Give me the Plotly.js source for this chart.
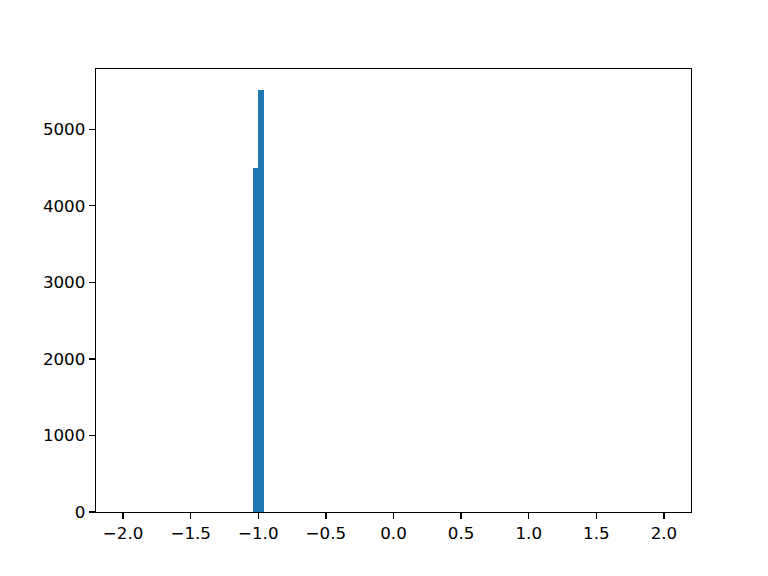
<!DOCTYPE html>
<html>
<head>
<meta charset="utf-8">
<script src="https://cdn.plot.ly/plotly-3.0.1.min.js"></script>
<style>body{margin:0;background:#fff}#plot{width:768px;height:576px}</style>
</head>
<body>
<div id="plot"></div>
<script>
// histogram bins (only the non-empty ones), width 0.04 over range -2..2
const binLeft = [-1.04, -1.00];
const counts = [4490, 5510];
const binWidth = 0.04;

const xTickVals = [-2.0, -1.5, -1.0, -0.5, 0.0, 0.5, 1.0, 1.5, 2.0];
const xTickText = ['\u22122.0', '\u22121.5', '\u22121.0', '\u22120.5', '0.0', '0.5', '1.0', '1.5', '2.0'];
const yTickVals = [0, 1000, 2000, 3000, 4000, 5000];

const trace = {
    type: 'bar',
    x: binLeft,
    y: counts,
    width: binLeft.map(() => binWidth),
    offset: 0,
    marker: {color: '#1f77b4', line: {width: 0}},
    hoverinfo: 'x+y'
};

const axisStyle = {
    showgrid: false,
    zeroline: false,
    showline: true,
    mirror: true,
    linecolor: '#000',
    linewidth: 1.3,
    ticks: 'outside',
    ticklen: 6,
    tickwidth: 1.3,
    tickcolor: '#000',
    tickfont: {family: 'DejaVu Sans', size: 16.7, color: '#000'}
};

const layout = {
    width: 768,
    height: 576,
    margin: {l: 96, r: 77, t: 69, b: 64, pad: 0},
    paper_bgcolor: '#fff',
    plot_bgcolor: '#fff',
    showlegend: false,
    bargap: 0,
    xaxis: Object.assign({}, axisStyle, {
        range: [-2.2, 2.2],
        tickmode: 'array',
        tickvals: xTickVals,
        ticktext: xTickText
    }),
    yaxis: Object.assign({}, axisStyle, {
        range: [0, Math.max(...counts) * 1.05],
        tickmode: 'array',
        tickvals: yTickVals
    })
};

Plotly.newPlot('plot', [trace], layout, {displayModeBar: false, staticPlot: true});
</script>
</body>
</html>
